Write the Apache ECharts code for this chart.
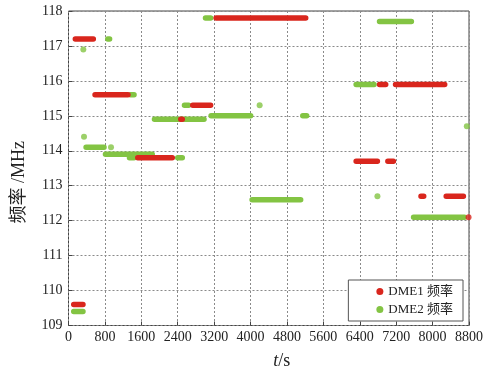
<!DOCTYPE html>
<html>
<head>
<meta charset="utf-8">
<script src="https://cdn.jsdelivr.net/npm/echarts@6/dist/echarts.min.js"></script>
<style>
  html, body { margin: 0; padding: 0; background: #fff; }
  #main { width: 483px; height: 371px; }
</style>
</head>
<body>
<div id="main"></div>
<script>
// tick values
var xTicks = [0, 800, 1600, 2400, 3200, 4000, 4800, 5600, 6400, 7200, 8000, 8800];
var yTicks = [109, 110, 111, 112, 113, 114, 115, 116, 117, 118];

// runs of constant frequency: [MHz, t start, t end]
var dme1Runs = [
  [109.6, 115, 318],
  [117.2, 150, 545],
  [115.6, 583, 1307],
  [113.8, 1522, 2280],
  [114.9, 2467, 2500],
  [115.3, 2730, 3123],
  [117.8, 3243, 5212],
  [113.7, 6320, 6787],
  [113.7, 7017, 7139],
  [115.9, 6834, 6970],
  [115.9, 7186, 8266],
  [112.7, 7745, 7805],
  [112.7, 8299, 8677]
];
var dme1Dots = [
  [8790, 112.1]
];

var dme2Runs = [
  [109.4, 115, 318],
  [117.2, 863, 903],
  [115.6, 1360, 1440],
  [114.1, 386, 780],
  [113.9, 812, 1840],
  [113.8, 1340, 1440],
  [113.8, 2400, 2500],
  [114.9, 1889, 2978],
  [115.3, 2548, 2640],
  [117.8, 3010, 3123],
  [115.0, 3133, 4002],
  [115.0, 5148, 5233],
  [112.6, 4034, 5101],
  [117.7, 6834, 7534],
  [115.9, 6320, 6714],
  [112.1, 7582, 8700]
];
var dme2Dots = [
  [326, 116.9],
  [341, 114.4],
  [934, 114.1],
  [4200, 115.3],
  [6788, 112.7],
  [8752, 114.7]
];

var red = '#d9261d';
var green = '#83c443';
var serif = '"Liberation Serif", "Noto Sans CJK SC", serif';

function runsToLine(runs) {
  var out = [];
  runs.forEach(function (r) {
    out.push([r[1], r[0]], [r[2], r[0]], [r[2], null]);
  });
  return out;
}

var chart = echarts.init(document.getElementById('main'), null, { renderer: 'canvas' });

var option = {
  animation: false,
  grid: {
    left: 68.5, right: 14, top: 11, bottom: 45.5,
    outerBoundsMode: 'none',
    show: true, borderColor: '#444', borderWidth: 1
  },
  legend: {
    orient: 'vertical',
    right: 20, top: 280,
    padding: [5, 10, 5, 28],
    itemWidth: 7, itemHeight: 7, itemGap: 5,
    borderColor: '#555', borderWidth: 1,
    backgroundColor: '#fff',
    textStyle: { fontFamily: serif, fontSize: 13, color: '#222' },
    data: [
      { name: 'DME1 频率', icon: 'circle' },
      { name: 'DME2 频率', icon: 'circle' }
    ]
  },
  xAxis: {
    type: 'value',
    min: 0, max: 8800, interval: 800,
    name: '{i|t}/s',
    nameLocation: 'middle', nameGap: 27,
    nameTextStyle: {
      fontFamily: serif, fontSize: 18, color: '#222',
      padding: [0, 0, 0, 26],
      rich: { i: { fontFamily: serif, fontSize: 18, fontStyle: 'italic', color: '#222' } }
    },
    axisLine: { show: false },
    axisTick: { inside: true, length: 4, lineStyle: { color: '#444' } },
    axisLabel: {
      fontFamily: serif, fontSize: 14, color: '#222', margin: 5,
      formatter: function (v) { return String(v); }
    },
    splitLine: { lineStyle: { color: '#8a8a8a', type: [2, 2], width: 1 } }
  },
  yAxis: {
    type: 'value',
    min: 109, max: 118, interval: 1,
    name: '频率 /MHz',
    nameLocation: 'middle', nameGap: 40,
    nameTextStyle: { fontFamily: serif, fontSize: 18, color: '#222', padding: [0, 28, 0, 0] },
    axisLine: { show: false },
    axisTick: { inside: true, length: 4, lineStyle: { color: '#444' } },
    axisLabel: { fontFamily: serif, fontSize: 14, color: '#222', margin: 6 },
    splitLine: { lineStyle: { color: '#8a8a8a', type: [2, 2], width: 1 } }
  },
  series: [
    {
      name: 'DME2 频率', type: 'line', z: 2,
      data: runsToLine(dme2Runs), connectNulls: false,
      showSymbol: false, itemStyle: { color: green },
      lineStyle: { color: green, width: 5.5, cap: 'round' }
    },
    {
      name: 'DME2 频率', type: 'scatter', z: 2,
      data: dme2Dots, symbolSize: 6,
      itemStyle: { color: green }
    },
    {
      name: 'DME1 频率', type: 'line', z: 3,
      data: runsToLine(dme1Runs), connectNulls: false,
      showSymbol: false, itemStyle: { color: red },
      lineStyle: { color: red, width: 5.5, cap: 'round' }
    },
    {
      name: 'DME1 频率', type: 'scatter', z: 3,
      data: dme1Dots, symbolSize: 6,
      itemStyle: { color: red }
    }
  ]
};

chart.setOption(option);
</script>
</body>
</html>
